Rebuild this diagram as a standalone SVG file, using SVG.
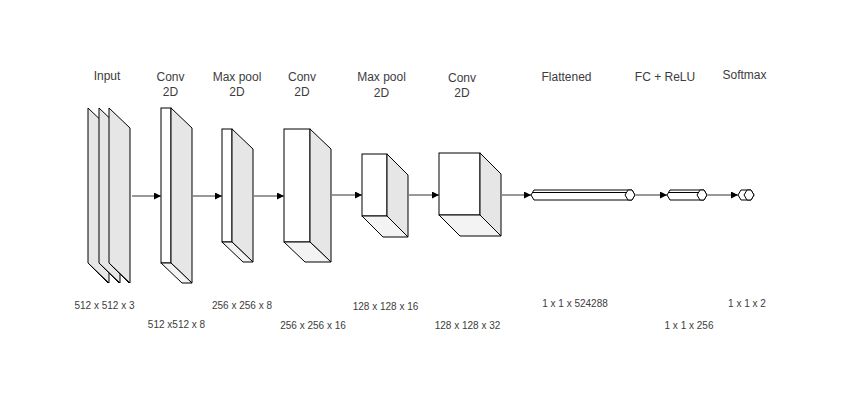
<svg xmlns="http://www.w3.org/2000/svg" width="855" height="402" viewBox="0 0 855 402">
<defs>
<style>
.front{fill:#ffffff;stroke:#000;stroke-width:1}
.side{fill:#e6e6e6;stroke:#000;stroke-width:1;stroke-linejoin:round}
.bot{fill:#f3f3f3;stroke:#000;stroke-width:1;stroke-linejoin:round}
.pr{fill:#ffffff;stroke:#000;stroke-width:1;stroke-linejoin:round}
.ln{fill:none;stroke:#000;stroke-width:1}
.conn{fill:none;stroke:#333;stroke-width:1;marker-end:url(#ah)}
.t{font-family:"Liberation Sans",Arial,sans-serif;font-size:12px;fill:#3c3c3c;text-anchor:middle}
.s{font-family:"Liberation Sans",Arial,sans-serif;font-size:10px;fill:#3c3c3c;text-anchor:middle}
</style>
<marker id="ah" viewBox="0 0 10 10" refX="10" refY="5" markerWidth="7" markerHeight="7" markerUnits="userSpaceOnUse" orient="auto">
<path d="M0,0 L10,5 L0,10 z" fill="#000"/>
</marker>
</defs>
<rect width="855" height="402" fill="#ffffff"/>

<g id="input">
<polygon class="side" points="88,108 109,128 109,283 88,263"/>
<line class="ln" x1="89" y1="264" x2="108" y2="283"/>
<polygon class="side" points="99,108 120,128 120,283 99,263"/>
<line class="ln" x1="100" y1="264" x2="119" y2="283"/>
<polygon class="side" points="109,108 130,128 130,283 109,263"/>
<line class="ln" x1="110" y1="264" x2="129" y2="283"/>
<text class="t" x="107" y="80">Input</text>
<text class="s" x="104.5" y="309">512 x 512 x 3</text>
</g>

<g id="conv1">
<rect class="front" x="161" y="108" width="10" height="155"/>
<polygon class="side" points="171,108 192,128 192,283 171,263"/>
<polygon class="bot" points="161,263 171,263 192,283 182,283"/>
<text class="t" x="170.5" y="81">Conv</text>
<text class="t" x="170.5" y="96">2D</text>
<text class="s" x="176.5" y="328">512 x512 x 8</text>
</g>

<g id="pool1">
<rect class="front" x="222" y="129" width="10" height="113"/>
<polygon class="side" points="232,129 253,149 253,262 232,242"/>
<polygon class="bot" points="222,242 232,242 253,262 243,262"/>
<text class="t" x="237" y="81">Max pool</text>
<text class="t" x="237" y="96">2D</text>
<text class="s" x="242" y="309">256 x 256 x 8</text>
</g>

<g id="conv2">
<rect class="front" x="284" y="129" width="26" height="113"/>
<polygon class="side" points="310,129 331,149 331,262 310,242"/>
<polygon class="bot" points="284,242 310,242 331,262 305,262"/>
<text class="t" x="302" y="81">Conv</text>
<text class="t" x="302" y="96">2D</text>
<text class="s" x="313" y="329">256 x 256 x 16</text>
</g>

<g id="pool2">
<rect class="front" x="362" y="154" width="25" height="62"/>
<polygon class="side" points="387,154 408,175 408,237 387,216"/>
<polygon class="bot" points="362,216 387,216 408,237 383,237"/>
<text class="t" x="381.5" y="81">Max pool</text>
<text class="t" x="381.5" y="97">2D</text>
<text class="s" x="385.5" y="310">128 x 128 x 16</text>
</g>

<g id="conv3">
<rect class="front" x="439" y="153" width="41" height="62"/>
<polygon class="side" points="480,153 501,174 501,236 480,215"/>
<polygon class="bot" points="439,215 480,215 501,236 460,236"/>
<text class="t" x="462" y="82">Conv</text>
<text class="t" x="462" y="97">2D</text>
<text class="s" x="467.5" y="329">128 x 128 x 32</text>
</g>

<g id="flattened">
<polygon class="pr" points="531,195 534,190 632,190 635,195 632,200 534,200"/>
<line class="ln" x1="533" y1="192.5" x2="626" y2="192.5"/>
<polygon class="pr" points="625,195 628,190 632,190 635,195 632,200 628,200"/>
<text class="t" x="566.5" y="81">Flattened</text>
<text class="s" x="575" y="307">1 x 1 x 524288</text>
</g>

<g id="fc">
<polygon class="pr" points="667,195 670,190 704,190 707,195 704,200 670,200"/>
<line class="ln" x1="669" y1="192.5" x2="698" y2="192.5"/>
<polygon class="pr" points="697,195 700,190 704,190 707,195 704,200 700,200"/>
<text class="t" x="665" y="81">FC + ReLU</text>
<text class="s" x="689" y="329">1 x 1 x 256</text>
</g>

<g id="softmax">
<polygon class="pr" points="738,195 741,190 751,190 754,195 751,200 741,200"/>
<polygon class="pr" points="744,195 747,190 751,190 754,195 751,200 747,200"/>
<text class="t" x="744.5" y="79">Softmax</text>
<text class="s" x="747" y="307">1 x 1 x 2</text>
</g>

<g id="connectors">
<line class="conn" x1="132" y1="196" x2="161" y2="196"/>
<line class="conn" x1="193" y1="196" x2="222" y2="196"/>
<line class="conn" x1="254" y1="196" x2="284" y2="196"/>
<line class="conn" x1="332" y1="195" x2="362" y2="195"/>
<line class="conn" x1="409" y1="195" x2="439" y2="195"/>
<line class="conn" x1="502" y1="195" x2="531" y2="195"/>
<line class="conn" x1="636" y1="195" x2="667" y2="195"/>
<line class="conn" x1="708" y1="195" x2="738" y2="195"/>
</g>
</svg>
